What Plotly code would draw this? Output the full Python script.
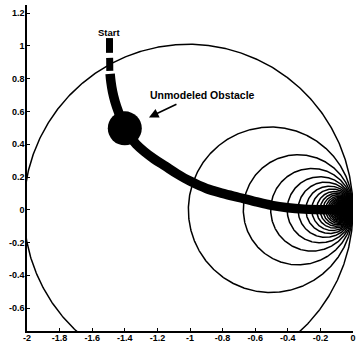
import numpy as np
import plotly.graph_objects as go

# ---- data ----
# trajectory (continuous part)
traj_x = [-1.490, -1.485, -1.475, -1.460, -1.440, -1.420, -1.400, -1.370, -1.330,
          -1.280, -1.220, -1.150, -1.080, -1.000, -0.900, -0.800, -0.700, -0.600,
          -0.500, -0.400, -0.300, -0.150, 0.000]
traj_y = [0.830, 0.780, 0.720, 0.660, 0.600, 0.550, 0.500, 0.450, 0.400,
          0.355, 0.310, 0.265, 0.220, 0.175, 0.130, 0.100, 0.075, 0.050,
          0.027, 0.012, 0.004, 0.000, 0.000]
# first sparse samples at the start
start_seg_x = [-1.494, -1.494, None, -1.493, -1.492]
start_seg_y = [1.048, 0.958, None, 0.927, 0.848]

# unmodeled obstacle
obstacle_x = [-1.40]
obstacle_y = [0.497]

# diameters of the circular level curves (all tangent at the origin)
contour_diameters = [2.02, 1.01, 0.673, 0.505, 0.404, 0.337, 0.289, 0.253, 0.224,
                     0.202, 0.184, 0.168, 0.155, 0.144, 0.135, 0.126, 0.119,
                     0.112, 0.106, 0.101, 0.096, 0.092, 0.088, 0.084, 0.081,
                     0.078, 0.075, 0.072, 0.070, 0.067, 0.063, 0.060, 0.056,
                     0.053, 0.050, 0.047, 0.044, 0.041, 0.038, 0.035]

x_tick_vals = [-2, -1.8, -1.6, -1.4, -1.2, -1, -0.8, -0.6, -0.4, -0.2, 0]
x_tick_text = ["-2", "-1.8", "-1.6", "-1.4", "-1.2", "-1", "-0.8", "-0.6", "-0.4", "-0.2", "0"]
y_tick_vals = [1.2, 1, 0.8, 0.6, 0.4, 0.2, 0, -0.2, -0.4, -0.6]
y_tick_text = ["1.2", "1", "0.8", "0.6", "0.4", "0.2", "0", "-0.2", "-0.4", "-0.6"]

start_label = "Start"
obstacle_label = "Unmodeled Obstacle"

FONT = "Liberation Sans, Arial, sans-serif"

fig = go.Figure()

# level curves
t = np.linspace(0, 2 * np.pi, 721)
cx, cy = [], []
for d in contour_diameters:
    r = d / 2
    cx += list(-r + r * np.cos(t)) + [None]
    cy += list(r * np.sin(t)) + [None]
fig.add_trace(go.Scatter(x=cx, y=cy, mode="lines",
                         line=dict(color="black", width=1.5),
                         hoverinfo="skip", showlegend=False))

# trajectory
fig.add_trace(go.Scatter(x=traj_x, y=traj_y, mode="lines",
                         line=dict(color="black", width=9.5, shape="spline"),
                         showlegend=False))
fig.add_trace(go.Scatter(x=start_seg_x, y=start_seg_y, mode="lines",
                         line=dict(color="black", width=7),
                         showlegend=False))

# obstacle
fig.add_trace(go.Scatter(x=obstacle_x, y=obstacle_y, mode="markers",
                         marker=dict(color="black", size=34, line=dict(width=0)),
                         showlegend=False))

fig.add_annotation(x=-1.494, y=1.085, text=start_label, showarrow=False,
                   font=dict(family=FONT, size=9.5, color="black", weight="bold"))
fig.add_annotation(x=-1.252, y=0.564, ax=-1.074, ay=0.648,
                   axref="x", ayref="y", xref="x", yref="y",
                   text="", showarrow=True, arrowhead=2, arrowsize=1.2,
                   arrowwidth=1.6, arrowcolor="black")
fig.add_annotation(x=-0.926, y=0.703, text=obstacle_label, showarrow=False,
                   font=dict(family=FONT, size=10.5, color="black", weight="bold"))

axis_common = dict(showgrid=False, zeroline=False, showline=True, linecolor="black",
                   linewidth=1.5, ticks="inside", ticklen=3, tickwidth=1,
                   tickcolor="black", mirror=False, automargin=False,
                   tickfont=dict(family=FONT, size=9, color="black", weight="bold"))

fig.update_xaxes(range=[-2, 0], tickmode="array", tickvals=x_tick_vals,
                 ticktext=x_tick_text, ticklabelstandoff=-3, **axis_common)
fig.update_yaxes(range=[-0.74, 1.25], tickmode="array", tickvals=y_tick_vals,
                 ticktext=y_tick_text, ticklabelstandoff=-1, **axis_common)

fig.update_layout(width=356, height=348, margin=dict(l=27, r=3, t=5, b=17),
                  plot_bgcolor="white", paper_bgcolor="white", showlegend=False)

fig.write_html("out.html", config={"displayModeBar": False},
               post_script="document.body.style.margin='0';document.body.style.overflow='hidden';")
